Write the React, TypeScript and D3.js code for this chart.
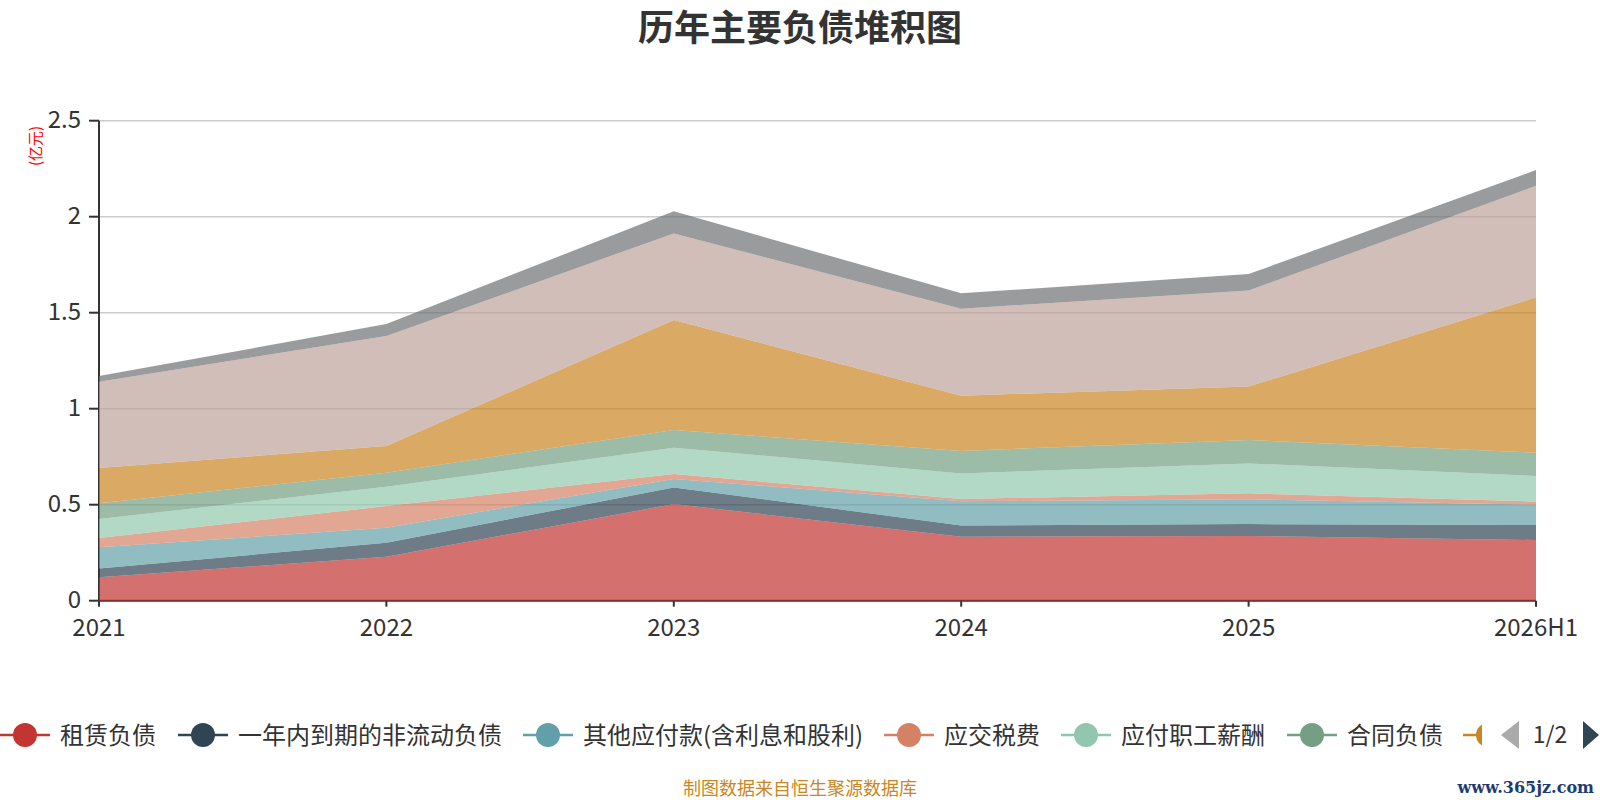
import React, { useEffect, useRef } from 'react';
import * as d3 from 'd3';

// chart data (unit: 亿元)
const years = ['2021', '2022', '2023', '2024', '2025', '2026H1'];

const seriesNames = [
  '租赁负债',
  '一年内到期的非流动负债',
  '其他应付款(含利息和股利)',
  '应交税费',
  '应付职工薪酬',
  '合同负债',
  '应付账款',
  '短期借款',
  '其他流动负债',
];

const leaseLiab = [0.122, 0.229, 0.503, 0.333, 0.337, 0.316];
const currentNonCurrent = [0.046, 0.073, 0.087, 0.059, 0.062, 0.078];
const otherPayables = [0.11, 0.078, 0.044, 0.126, 0.129, 0.106];
const taxPayable = [0.048, 0.113, 0.026, 0.012, 0.031, 0.016];
const payroll = [0.099, 0.101, 0.137, 0.133, 0.156, 0.134];
const contractLiab = [0.082, 0.073, 0.092, 0.117, 0.122, 0.121];
const accountsPayable = [0.184, 0.139, 0.573, 0.288, 0.278, 0.809];
const shortLoans = [0.45, 0.572, 0.451, 0.453, 0.5, 0.581];
const otherCurrent = [0.029, 0.063, 0.115, 0.08, 0.086, 0.082];

const seriesValues = [
  leaseLiab, currentNonCurrent, otherPayables, taxPayable, payroll,
  contractLiab, accountsPayable, shortLoans, otherCurrent,
];

const yTicks = [0, 0.5, 1, 1.5, 2, 2.5];

const palette = ['#c23531', '#2f4554', '#61a0a8', '#d48265', '#91c7ae', '#749f83', '#ca8622', '#bda29a', '#6e7074'];

const W = 1600;
const H = 800;
const margin = { left: 99, right: 64, top: 120.7, bottom: 199.3 };
const FONT = '"Noto Sans CJK SC", "Noto Sans", sans-serif';

const StackChart: React.FC = () => {
  const svgRef = useRef<SVGSVGElement>(null);

  useEffect(() => {
    if (!svgRef.current) return;
    const svg = d3.select(svgRef.current);
    svg.selectAll('*').remove();

    const x0 = margin.left;
    const x1 = W - margin.right;
    const y0 = H - margin.bottom;
    const y1 = margin.top;

    const x = d3.scalePoint<string>().domain(years).range([x0, x1]);
    const y = d3.scaleLinear().domain([0, 2.5]).range([y0, y1]);

    // rows for d3.stack
    const rows = years.map((yr, i) => {
      const r: Record<string, any> = { year: yr };
      seriesNames.forEach((n, k) => { r[n] = seriesValues[k][i]; });
      return r;
    });
    const stacked = d3.stack<any>().keys(seriesNames)(rows);

    // title
    svg.append('text')
      .attr('x', W / 2)
      .attr('y', 41)
      .attr('text-anchor', 'middle')
      .style('font-family', FONT)
      .style('font-size', '36px')
      .style('font-weight', 'bold')
      .attr('fill', '#333')
      .text('历年主要负债堆积图');

    // grid lines
    svg.append('g')
      .selectAll('line')
      .data(yTicks.filter(t => t > 0))
      .join('line')
      .attr('x1', x0)
      .attr('x2', x1)
      .attr('y1', d => y(d))
      .attr('y2', d => y(d))
      .attr('stroke', '#ccc')
      .attr('stroke-width', 1.5);

    // y axis
    const yAxis = svg.append('g');
    yAxis.append('line')
      .attr('x1', x0).attr('x2', x0)
      .attr('y1', y0).attr('y2', y1)
      .attr('stroke', '#333').attr('stroke-width', 2);
    yAxis.selectAll('line.tick')
      .data(yTicks)
      .join('line')
      .attr('class', 'tick')
      .attr('x1', x0 - 10).attr('x2', x0)
      .attr('y1', d => y(d)).attr('y2', d => y(d))
      .attr('stroke', '#333').attr('stroke-width', 2);
    yAxis.selectAll('text')
      .data(yTicks)
      .join('text')
      .attr('x', x0 - 18)
      .attr('y', d => y(d) - 1)
      .attr('dy', '0.36em')
      .attr('text-anchor', 'end')
      .style('font-family', FONT)
      .style('font-size', '24px')
      .attr('fill', '#333')
      .text(d => String(d));

    // unit label
    svg.append('text')
      .attr('transform', `translate(41,146) rotate(-90)`)
      .attr('text-anchor', 'middle')
      .style('font-family', FONT)
      .style('font-size', '15px')
      .attr('fill', '#ff0000')
      .text('(亿元)');

    // x axis
    const xAxis = svg.append('g');
    xAxis.append('line')
      .attr('x1', x0).attr('x2', x1)
      .attr('y1', y0).attr('y2', y0)
      .attr('stroke', '#333').attr('stroke-width', 2);
    xAxis.selectAll('line.tick')
      .data(years)
      .join('line')
      .attr('class', 'tick')
      .attr('x1', d => x(d)!).attr('x2', d => x(d)!)
      .attr('y1', y0).attr('y2', y0 + 6)
      .attr('stroke', '#333').attr('stroke-width', 2);
    xAxis.selectAll('text')
      .data(years)
      .join('text')
      .attr('x', d => x(d)!)
      .attr('y', y0 + 27)
      .attr('dy', '0.36em')
      .attr('text-anchor', 'middle')
      .style('font-family', FONT)
      .style('font-size', '24px')
      .attr('fill', '#333')
      .text(d => d);

    // stacked areas
    const area = d3.area<any>()
      .x((d) => x(d.data.year)!)
      .y0(d => y(d[0]))
      .y1(d => y(d[1]));

    svg.append('g')
      .selectAll('path')
      .data(stacked)
      .join('path')
      .attr('d', d => area(d as any))
      .attr('fill', (_, i) => palette[i])
      .attr('fill-opacity', 0.7);

    // legend (first page, clipped at the pager)
    svg.append('clipPath')
      .attr('id', 'legend-clip')
      .append('rect')
      .attr('x', 0).attr('y', 700).attr('width', 1482).attr('height', 70);

    const legendStarts = [0, 178, 523, 884, 1061, 1287, 1463];
    const legend = svg.append('g').attr('clip-path', 'url(#legend-clip)');
    const ly = 735;
    const item = legend.selectAll('g')
      .data(legendStarts)
      .join('g')
      .attr('transform', d => `translate(${d},${ly})`);
    item.append('line')
      .attr('x1', 0).attr('x2', 50)
      .attr('y1', 0).attr('y2', 0)
      .attr('stroke', (_, i) => palette[i])
      .attr('stroke-width', 2.5);
    item.append('circle')
      .attr('cx', 25).attr('cy', 0).attr('r', 12)
      .attr('fill', (_, i) => palette[i]);
    item.append('text')
      .attr('x', 60)
      .attr('y', 0)
      .attr('dy', '0.36em')
      .style('font-family', FONT)
      .style('font-size', '24px')
      .attr('fill', '#333')
      .text((_, i) => seriesNames[i]);

    // pager
    svg.append('path')
      .attr('d', 'M1501,735 L1519,721 L1519,749 Z')
      .attr('fill', '#aaa');
    svg.append('text')
      .attr('x', 1550).attr('y', ly).attr('dy', '0.36em')
      .attr('text-anchor', 'middle')
      .style('font-family', FONT)
      .style('font-size', '23px')
      .attr('fill', '#333')
      .text('1/2');
    svg.append('path')
      .attr('d', 'M1583,721 L1599,735 L1583,749 Z')
      .attr('fill', '#2f4554');

    // credits
    svg.append('text')
      .attr('x', W / 2).attr('y', 789).attr('dy', '0.36em')
      .attr('text-anchor', 'middle')
      .style('font-family', FONT)
      .style('font-size', '18px')
      .attr('fill', '#ca8622')
      .text('制图数据来自恒生聚源数据库');
    svg.append('text')
      .attr('x', 1594).attr('y', 787).attr('dy', '0.36em')
      .attr('text-anchor', 'end')
      .style('font-family', '"DejaVu Serif", serif')
      .style('font-size', '16px')
      .style('font-weight', 'bold')
      .attr('fill', '#1f3b73')
      .text('www.365jz.com');
  }, []);

  return (
    <svg
      ref={svgRef}
      width={W}
      height={H}
      style={{ position: 'absolute', left: 0, top: 0, background: '#fff' }}
    />
  );
};

export default function App() {
  return <StackChart />;
}
